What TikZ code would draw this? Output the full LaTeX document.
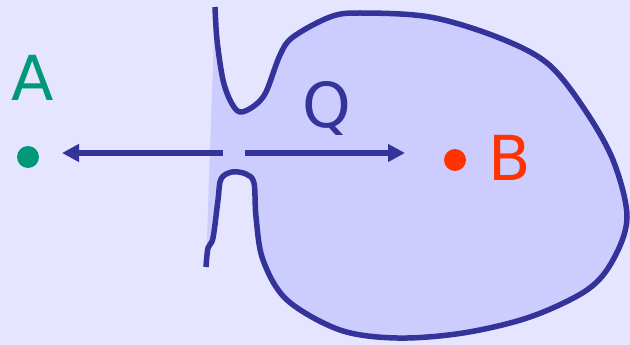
\documentclass[tikz,border=0pt]{standalone}
\usepackage{fontspec}
\setmainfont{DejaVu Sans}
\usetikzlibrary{arrows.meta}
\definecolor{bg}{RGB}{229,229,255}
\definecolor{blobfill}{RGB}{204,204,255}
\definecolor{ink}{RGB}{51,51,153}
\definecolor{agreen}{RGB}{0,153,119}
\definecolor{bred}{RGB}{255,51,0}
\begin{document}
\begin{tikzpicture}[x=1pt,y=-1pt,
  outline/.style={draw=ink,line width=5.5pt,line cap=butt,line join=round},
  flow/.style={draw=ink,line width=5.5pt,-{Triangle[length=17pt,width=17pt]}},
  dot/.style={circle,inner sep=0pt,minimum size=22pt},
  lbl/.style={anchor=base,inner sep=0pt,font=\fontsize{62}{62}\selectfont}]
\fill[bg] (0,0) rectangle (630,345);
\useasboundingbox (0,0) rectangle (630,345);
\def\blobpts{(215,7) (217,40) (223,80) (231,102) (240,112) (254,106) (266,92) (280,55) (293,37) (330,17) (360,13) (430,17) (497,37) (547,63) (583,107) (613,160) (627,217) (613,260) (587,290) (530,317) (463,333) (397,338) (340,330) (287,300) (263,260) (256,217) (254,183) (246,174) (232,172) (221,179) (218,200) (213,238) (208,248) (206,267)}
\fill[blobfill] plot[smooth,tension=0.55] coordinates {\blobpts} -- cycle;
\draw[outline] plot[smooth,tension=0.55] coordinates {\blobpts};
\node[dot,fill=agreen] (A) at (28,157) {};
\node[dot,fill=bred] (B) at (455,160) {};
\node[lbl,text=agreen] (Alabel) at (33,100) {A};
\node[lbl,text=bred] (Blabel) at (510,180) {B};
\node[lbl,text=ink] (Q) at (327,128) {Q};
\coordinate (nl) at (223,153);
\coordinate (nr) at (245,153);
\coordinate (al) at (62,153);
\coordinate (br) at (405,153);
\draw[flow] (nl) -- (al);
\draw[flow] (nr) -- (br);
\end{tikzpicture}
\end{document}
